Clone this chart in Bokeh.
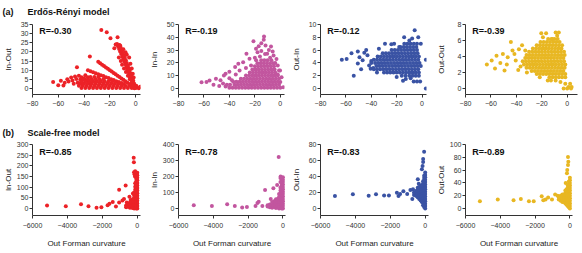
from bokeh.plotting import figure
from bokeh.models import Range1d, FixedTicker, Label
from bokeh.layouts import column, row
from bokeh.embed import file_html
from bokeh.resources import INLINE

FONT = "Liberation Sans"

# ---------------- data ----------------
row_titles = [("(a)", "Erdős-Rényi model"), ("(b)", "Scale-free model")]
y_labels_a = ["In-Out", "In-In", "Out-In", "Out-Out"]
y_labels_b = ["In-Out", "In-In", "Out-In", "Out-Out"]
r_values_a = ["R=-0.30", "R=-0.19", "R=-0.12", "R=-0.39"]
r_values_b = ["R=-0.85", "R=-0.78", "R=-0.83", "R=-0.89"]
x_label_b = "Out Forman curvature"
x_ticks_a = [-80, -60, -40, -20, 0]
x_ticks_b = [-6000, -4000, -2000, 0]
y_ticks_a = [[0, 5, 10, 15, 20, 25, 30, 35], [0, 10, 20, 30, 40, 50], [0, 2, 4, 6, 8, 10], [0, 2, 4, 6, 8]]
y_ticks_b = [[0, 50, 100, 150, 200, 250, 300], [0, 100, 200, 300, 400], [0, 20, 40, 60, 80], [0, 20, 40, 60, 80, 100]]
x_end_a = [3.8, 3.3, 3.5, 8.1]
x_end_b = [184, 150, 190, 150]
colors = ["#EC2227", "#C2569F", "#3A53A4", "#E8B722"]

a1_points = [
    (-64, 3.5), (-60, 1.8), (-58, 4.2), (-56, 1.6), (-55, 3.2), (-53, 5.0), (-52, 3.8), (-50, 6.0), (-49, 4.4), (-48, 2.6),
    (-47, 6.6), (-46, 5.2), (-45, 3.2), (-44, 7.0), (-43, 4.8), (-42, 6.2), (-41, 2.4), (-40, 5.6), (-39, 7.3), (-38, 4.2),
    (-37, 6.2), (-36, 3.0),
    (-45.5, 11.6), (-35.5, 17.5), (-26.6, 32.0), (-22.4, 30.8), (-19.5, 27.5), (-14.0, 28.0), (-12.0, 23.5), (-9.5, 21.5),
    (-7.8, 19.8), (-5.0, 17.0), (-6.8, 18.5), (-4.0, 13.5), (-3.0, 11.0), (-2.2, 8.0), (-1.5, 6.0), (-16.5, 22.0),
    (-0.5, 1.0), (-1.5, 1.8), (-2.5, 2.4), (-1.2, 2.8), (-2.8, 3.6), (-1.8, 4.2), (-3.5, 4.8), (-2.6, 5.6), (-4.2, 6.2),
    (-3.2, 7.0), (-5.0, 7.6), (-4.0, 8.4), (-5.8, 9.0), (-4.6, 9.8), (-6.5, 10.4), (-5.4, 11.2), (-7.2, 11.8), (-6.0, 12.6),
    (-8.0, 13.2), (-6.8, 14.0), (-8.8, 14.6), (-7.6, 15.4), (-9.6, 16.0), (-8.4, 16.8), (-10.4, 17.4), (-9.2, 18.2),
    (-11.2, 18.8), (-10.0, 19.6), (-12.0, 20.2), (-10.8, 21.0), (-12.8, 21.6), (-11.6, 22.4), (-13.6, 23.0), (-12.6, 23.8),
    (-14.4, 24.4), (-15.5, 24.0), (-13.0, 17.0), (-11.5, 15.0), (-10.5, 13.0), (-9.0, 11.0), (-7.5, 9.0), (-6.0, 7.0),
    (-4.5, 5.0), (-3.0, 3.0),
    (-29, 14.6), (-27.5, 13.8), (-26, 13.0), (-24.5, 12.3), (-23, 11.5), (-21.5, 10.8), (-20, 10.0), (-18.5, 9.3),
    (-17, 8.5), (-15.5, 7.8), (-14, 7.0), (-12.5, 6.3), (-11, 5.5), (-9.5, 4.8), (-8, 4.0), (-6.5, 3.3), (-5, 2.5), (-3.5, 1.8),
    (-37, 10.0), (-35, 9.5), (-33, 8.9), (-31, 8.4), (-29, 7.8), (-27, 7.3), (-25, 6.8), (-23, 6.2), (-21, 5.7), (-19, 5.1),
    (-17, 4.6), (-15, 4.0), (-13, 3.5), (-11, 3.0), (-9, 2.4),
    (-42, 0.3), (-39, 0.3), (-36, 0.3), (-33, 0.3), (-30, 0.3), (-27, 0.3), (-24, 0.3), (-21, 0.3), (-18, 0.3), (-15, 0.3),
    (-12, 0.3), (-9, 0.3), (-6, 0.3), (-3, 0.3), (0, 0.3),
    (-44, 1.5), (-41, 1.5), (-38, 1.5), (-35, 1.5), (-32, 1.5), (-29, 1.5), (-26, 1.5), (-23, 1.5), (-20, 1.5), (-17, 1.5),
    (-14, 1.5), (-11, 1.5), (-8, 1.5), (-5, 1.5), (-2, 1.5),
    (-43, 2.7), (-40, 2.7), (-37, 2.7), (-34, 2.7), (-31, 2.7), (-28, 2.7), (-25, 2.7), (-22, 2.7), (-19, 2.7), (-16, 2.7), (-13, 2.7),
    (-42, 3.9), (-39, 3.9), (-36, 3.9), (-33, 3.9), (-30, 3.9), (-27, 3.9), (-24, 3.9), (-21, 3.9), (-18, 3.9),
    (-40, 5.1), (-37, 5.1), (-34, 5.1), (-31, 5.1), (-28, 5.1), (-25, 5.1),
    (-35, 6.3), (-32, 6.3), (-29, 6.3),
    (1, 0.5), (2.5, 0.2), (3.5, 1.0), (0.5, 1.5), (-1, 0.2),
]

a2_points = [
    (-12.8, 40.6), (-21.1, 37.0), (-14.9, 35.4), (-11.6, 33.6), (-7.3, 32.8), (-19.1, 31.0), (-17.9, 28.4), (-14.9, 29.2),
    (-10.3, 27.1), (-5.3, 25.8), (-26.6, 27.1), (-24.2, 23.2), (-33.0, 19.3), (-29.2, 20.5), (-35.5, 16.7), (-43.0, 11.5),
    (-44.3, 10.2), (-50.6, 7.6), (-55.6, 6.3), (-61.9, 4.9), (-58.0, 5.0), (-52.5, 3.0), (-47.0, 6.5), (-40.0, 8.0),
    (-0.2, 14.0), (1.0, 8.8), (2.3, 1.0), (-35.0, 11.0), (-38.0, 6.5), (-40.0, 13.0), (-32.0, 14.0), (-27.0, 16.0),
    (-23.0, 18.0), (-20.0, 24.0), (-16.0, 25.0), (-12.0, 27.0), (-8.0, 24.0), (-4.0, 20.0), (-2.0, 18.0), (-6.0, 29.0),
    (-9.0, 30.0), (-17.0, 33.0), (-13.0, 38.0), (-19.0, 22.0), (-2.0, 11.0), (0.0, 5.0), (-1.0, 14.0), (-3.0, 23.0),
    (-45.0, 4.0), (-48.0, 2.0), (-43.0, 1.5),
    (-40, 0.5), (-37.5, 0.5), (-35, 0.5), (-32.5, 0.5), (-30, 0.5), (-27.5, 0.5), (-25, 0.5), (-22.5, 0.5), (-20, 0.5),
    (-17.5, 0.5), (-15, 0.5), (-12.5, 0.5), (-10, 0.5), (-7.5, 0.5), (-5, 0.5), (-2.5, 0.5), (0, 0.5),
    (-42, 2.9), (-39.5, 2.9), (-36, 2.9), (-33.5, 2.9), (-31, 2.9), (-28.5, 2.9), (-26, 2.9), (-23.5, 2.9), (-21, 2.9),
    (-18.5, 2.9), (-16, 2.9), (-13.5, 2.9), (-11, 2.9), (-8.5, 2.9), (-6, 2.9), (-3.5, 2.9), (-1, 2.9),
    (-37, 5.3), (-34.5, 5.3), (-32, 5.3), (-29.5, 5.3), (-27, 5.3), (-24.5, 5.3), (-22, 5.3), (-19.5, 5.3), (-17, 5.3),
    (-14.5, 5.3), (-12, 5.3), (-9.5, 5.3), (-7, 5.3), (-4.5, 5.3), (-2, 5.3),
    (-31, 7.7), (-28.5, 7.7), (-26, 7.7), (-23.5, 7.7), (-21, 7.7), (-18.5, 7.7), (-16, 7.7), (-13.5, 7.7), (-11, 7.7),
    (-8.5, 7.7), (-6, 7.7), (-3.5, 7.7), (-1, 7.7),
    (-27, 10.1), (-24.5, 10.1), (-22, 10.1), (-19.5, 10.1), (-17, 10.1), (-14.5, 10.1), (-12, 10.1), (-9.5, 10.1), (-7, 10.1),
    (-4.5, 10.1), (-2, 10.1),
    (-24, 12.5), (-21.5, 12.5), (-19, 12.5), (-16.5, 12.5), (-14, 12.5), (-11.5, 12.5), (-9, 12.5), (-6.5, 12.5), (-4, 12.5),
    (-22, 14.9), (-19.5, 14.9), (-17, 14.9), (-14.5, 14.9), (-12, 14.9), (-9.5, 14.9), (-7, 14.9), (-4.5, 14.9),
    (-20, 17.3), (-17.5, 17.3), (-15, 17.3), (-12.5, 17.3), (-10, 17.3), (-7.5, 17.3), (-5, 17.3),
    (-18, 19.7), (-15.5, 19.7), (-13, 19.7), (-10.5, 19.7), (-8, 19.7), (-5.5, 19.7),
    (-15, 22.1), (-12.5, 22.1), (-10, 22.1), (-7, 22.1),
]

a3_points = [
    (-63.2, 4.5), (-59.4, 4.6), (-55.6, 5.5), (-53.8, 2.0), (-50.6, 5.8), (-49.3, 4.9), (-50.6, 3.9), (-45.5, 5.6),
    (-46.8, 4.4), (-43.0, 5.2), (-41.7, 3.6), (-40.0, 4.3), (-40.5, 3.1), (-38.5, 3.2), (-35.5, 2.5), (-29.2, 7.0),
    (-24.2, 6.9), (-22.0, 7.0), (-14.1, 8.0), (-5.8, 9.1), (-7.8, 7.8), (-12.8, 1.5), (-15.0, 1.2), (-6.6, 1.1),
    (-4.0, 1.1), (-1.5, 1.1), (3.0, 4.5), (3.0, 0.0), (-1.0, 7.0), (-3.0, 8.0), (-10.0, 7.5), (-18.0, 6.5),
    (-44.0, 6.0), (-48.0, 3.0), (-34.0, 6.2), (-20.0, 1.8), (-9.0, 1.6),
    (-16, 2.0), (-13, 2.0), (-10, 2.0), (-7.5, 2.0), (-5, 2.0), (-2.5, 2.0),
    (-30, 2.5), (-27.5, 2.5), (-25, 2.5), (-22.5, 2.5), (-20, 2.5), (-17.5, 2.5), (-15, 2.5), (-12.5, 2.5), (-10, 2.5),
    (-7.5, 2.5), (-5, 2.5), (-2.5, 2.5),
    (-38, 3.0), (-35.5, 3.0), (-33, 3.0), (-30.5, 3.0), (-28, 3.0), (-25.5, 3.0), (-23, 3.0), (-20.5, 3.0), (-18, 3.0),
    (-15.5, 3.0), (-13, 3.0), (-10.5, 3.0), (-8, 3.0), (-5.5, 3.0), (-3, 3.0),
    (-36, 3.5), (-33.5, 3.5), (-31, 3.5), (-28.5, 3.5), (-26, 3.5), (-23.5, 3.5), (-21, 3.5), (-18.5, 3.5), (-16, 3.5),
    (-13.5, 3.5), (-11, 3.5), (-8.5, 3.5), (-6, 3.5), (-3.5, 3.5), (-1, 3.5),
    (-40, 4.0), (-37, 4.0), (-34.5, 4.0), (-32, 4.0), (-29.5, 4.0), (-27, 4.0), (-24.5, 4.0), (-22, 4.0), (-19.5, 4.0),
    (-17, 4.0), (-14.5, 4.0), (-12, 4.0), (-9.5, 4.0), (-7, 4.0), (-4.5, 4.0), (-2, 4.0),
    (-38, 4.5), (-35.5, 4.5), (-33, 4.5), (-30.5, 4.5), (-28, 4.5), (-25.5, 4.5), (-23, 4.5), (-20.5, 4.5), (-18, 4.5),
    (-15.5, 4.5), (-13, 4.5), (-10.5, 4.5), (-8, 4.5), (-5.5, 4.5), (-3, 4.5),
    (-35, 5.0), (-32.5, 5.0), (-30, 5.0), (-27.5, 5.0), (-25, 5.0), (-22.5, 5.0), (-20, 5.0), (-17.5, 5.0), (-15, 5.0),
    (-12.5, 5.0), (-10, 5.0), (-7.5, 5.0), (-5, 5.0), (-2.5, 5.0),
    (-31, 5.5), (-28.5, 5.5), (-26, 5.5), (-23.5, 5.5), (-21, 5.5), (-18.5, 5.5), (-16, 5.5), (-13.5, 5.5), (-11, 5.5),
    (-8.5, 5.5), (-6, 5.5), (-3.5, 5.5),
    (-24, 6.0), (-21.5, 6.0), (-19, 6.0), (-16.5, 6.0), (-14, 6.0), (-11.5, 6.0), (-9, 6.0), (-6.5, 6.0), (-4, 6.0),
    (-17, 6.5), (-14.5, 6.5), (-12, 6.5), (-9.5, 6.5), (-7, 6.5), (-4.5, 6.5),
    (-14, 7.0), (-11.5, 7.0), (-9, 7.0), (-6.5, 7.0), (-4, 7.0),
]

a4_points = [
    (-63.2, 3.0), (-59.4, 3.5), (-56.8, 2.5), (-55.6, 4.1), (-52.6, 3.2), (-50.6, 4.3), (-49.3, 2.25), (-46.8, 3.9),
    (-44.3, 5.8), (-43.0, 4.75), (-40.5, 3.5), (-38.0, 4.9), (-36.7, 2.75), (-35.5, 5.4), (-33.0, 4.75), (-31.7, 2.0),
    (-20.4, 6.9), (-16.6, 6.9), (-19.1, 6.4), (-9.1, 7.0), (-6.6, 7.0), (-7.9, 6.6), (-11.6, 6.2), (-21.6, 1.4),
    (-15.3, 1.0), (-12.8, 1.0), (-9.1, 1.0), (-5.3, 0.8), (-1.5, 0.6), (1.0, 0.2), (3.5, 0.2), (-2.8, 0.0), (0.0, 0.0),
    (3.0, 0.0), (2.3, 0.6), (-41.5, 4.3), (-47.5, 3.0), (-38.5, 2.3),
    (-14, 1.4), (-11.5, 1.4), (-9, 1.4), (-6.5, 1.4), (-4, 1.4), (-1.5, 1.4),
    (-24, 1.8), (-21.5, 1.8), (-19, 1.8), (-16.5, 1.8), (-14, 1.8), (-11.5, 1.8), (-9, 1.8), (-6.5, 1.8), (-4, 1.8), (-1.5, 1.8),
    (-28, 2.2), (-25.5, 2.2), (-23, 2.2), (-20.5, 2.2), (-18, 2.2), (-15.5, 2.2), (-13, 2.2), (-10.5, 2.2), (-8, 2.2),
    (-5.5, 2.2), (-3, 2.2),
    (-32, 2.6), (-29.5, 2.6), (-27, 2.6), (-24.5, 2.6), (-22, 2.6), (-19.5, 2.6), (-17, 2.6), (-14.5, 2.6), (-12, 2.6),
    (-9.5, 2.6), (-7, 2.6), (-4.5, 2.6), (-2, 2.6),
    (-34, 3.0), (-31.5, 3.0), (-29, 3.0), (-26.5, 3.0), (-24, 3.0), (-21.5, 3.0), (-19, 3.0), (-16.5, 3.0), (-14, 3.0),
    (-11.5, 3.0), (-9, 3.0), (-6.5, 3.0), (-4, 3.0), (-1.5, 3.0),
    (-35, 3.4), (-32.5, 3.4), (-30, 3.4), (-27.5, 3.4), (-25, 3.4), (-22.5, 3.4), (-20, 3.4), (-17.5, 3.4), (-15, 3.4),
    (-12.5, 3.4), (-10, 3.4), (-7.5, 3.4), (-5, 3.4), (-2.5, 3.4),
    (-33, 3.8), (-30.5, 3.8), (-28, 3.8), (-25.5, 3.8), (-23, 3.8), (-20.5, 3.8), (-18, 3.8), (-15.5, 3.8), (-13, 3.8),
    (-10.5, 3.8), (-8, 3.8), (-5.5, 3.8), (-3, 3.8),
    (-32, 4.2), (-29.5, 4.2), (-27, 4.2), (-24.5, 4.2), (-22, 4.2), (-19.5, 4.2), (-17, 4.2), (-14.5, 4.2), (-12, 4.2),
    (-9.5, 4.2), (-7, 4.2), (-4.5, 4.2), (-2, 4.2),
    (-30, 4.6), (-27.5, 4.6), (-25, 4.6), (-22.5, 4.6), (-20, 4.6), (-17.5, 4.6), (-15, 4.6), (-12.5, 4.6), (-10, 4.6),
    (-7.5, 4.6), (-5, 4.6), (-2.5, 4.6),
    (-27, 5.0), (-24.5, 5.0), (-22, 5.0), (-19.5, 5.0), (-17, 5.0), (-14.5, 5.0), (-12, 5.0), (-9.5, 5.0), (-7, 5.0), (-4.5, 5.0),
    (-24, 5.4), (-21.5, 5.4), (-19, 5.4), (-16.5, 5.4), (-14, 5.4), (-11.5, 5.4), (-9, 5.4), (-6.5, 5.4), (-4, 5.4),
    (-21, 5.8), (-18.5, 5.8), (-16, 5.8), (-13.5, 5.8), (-11, 5.8), (-8.5, 5.8), (-6, 5.8),
    (-15, 6.2), (-12.5, 6.2), (-10, 6.2), (-7.5, 6.2),
]

b1_points = [
    (-5167, 14), (-4094, 11), (-3222, 20), (-2794, 11), (-2333, 3), (-2056, 6), (-1700, 15), (-1594, 22), (-1406, 30),
    (-1222, 9), (-1040, 28), (-1040, 88), (-850, 38), (-667, 108), (-760, 45), (-600, 28), (-550, 12), (-450, 55),
    (-380, 40), (-205, 238), (-195, 217), (-185, 170), (-160, 160), (-130, 150),
    (0, 0), (0, 12), (0, 24), (0, 36), (0, 48), (0, 60), (0, 72), (0, 84), (0, 96), (0, 108), (0, 120), (0, 132), (0, 144),
    (0, 156), (0, 168),
    (-60, 0), (-60, 14), (-60, 28), (-60, 42), (-60, 56), (-60, 70), (-60, 84), (-60, 98), (-60, 112), (-60, 126), (-60, 140),
    (-120, 4), (-120, 18), (-120, 32), (-120, 46), (-120, 60), (-120, 74), (-120, 88), (-120, 102), (-120, 118), (-120, 175),
    (-180, 0), (-180, 15), (-180, 30), (-180, 45), (-180, 60), (-180, 75),
    (-250, 2), (-250, 16), (-250, 30), (-250, 44), (-250, 70),
    (-330, 5), (-330, 18), (-330, 32), (-420, 3), (-420, 15), (-420, 28), (-520, 8), (-520, 20), (-640, 6), (-640, 14),
]

b2_points = [
    (-5122, 21), (-4080, 16), (-3203, 27), (-2764, 15), (-2341, 6), (-2067, 10), (-1573, 15), (-1464, 35), (-1392, 42),
    (-1025, 116), (-547, 126), (-240, 322), (-130, 200), (-330, 147), (-696, 59), (-880, 20), (-1180, 15),
    (0, 0), (0, 15), (0, 30), (0, 45), (0, 60), (0, 75), (0, 90), (0, 105), (0, 120), (0, 135), (0, 150), (0, 165), (0, 180), (0, 195),
    (-70, 0), (-70, 16), (-70, 32), (-70, 48), (-70, 64), (-70, 80), (-70, 96), (-70, 112), (-70, 128), (-70, 144), (-70, 160), (-70, 180),
    (-140, 5), (-140, 22), (-140, 40), (-140, 58), (-140, 76), (-140, 94), (-140, 112), (-140, 130), (-140, 165), (-140, 190),
    (-220, 0), (-220, 18), (-220, 36), (-220, 54), (-220, 72), (-220, 90),
    (-300, 8), (-300, 25), (-300, 42), (-300, 60), (-400, 3), (-400, 20), (-400, 40), (-400, 58),
    (-500, 10), (-500, 28), (-500, 45), (-620, 5), (-620, 22), (-620, 40), (-750, 8), (-750, 25), (-880, 12),
]

b3_points = [
    (-5172, 15.5), (-4145, 17.7), (-3239, 16.0), (-2819, 17.7), (-2355, 16.4), (-2079, 16.4), (-1621, 19.7), (-1529, 15.5),
    (-1437, 18.0), (-1250, 21.5), (-1030, 18.0), (-848, 23.0), (-700, 24.0), (-738, 12.0), (-423, 36.7), (-368, 31.0),
    (-61, 70.8), (-117, 62.0), (-117, 58.0), (-150, 53.0), (-190, 49.0),
    (0, 0), (0, 3), (0, 6), (0, 9), (0, 12), (0, 15), (0, 18), (0, 21), (0, 24), (0, 27), (0, 30), (0, 33), (0, 36), (0, 39), (0, 42), (0, 45),
    (-60, 2), (-60, 5), (-60, 8), (-60, 11), (-60, 14), (-60, 17), (-60, 20), (-60, 23), (-60, 26), (-60, 29), (-60, 32), (-60, 35), (-60, 38), (-60, 41),
    (-120, 4), (-120, 7), (-120, 10), (-120, 13), (-120, 16), (-120, 19), (-120, 22), (-120, 25), (-120, 28), (-120, 31), (-120, 34),
    (-190, 8), (-190, 11), (-190, 14), (-190, 17), (-190, 20), (-190, 23), (-190, 26), (-190, 29),
    (-260, 10), (-260, 13), (-260, 16), (-260, 19), (-260, 22), (-260, 25), (-260, 28),
    (-340, 12), (-340, 15), (-340, 18), (-340, 21), (-340, 24), (-340, 27),
    (-430, 14), (-430, 17), (-430, 20), (-430, 23), (-430, 26), (-530, 16), (-530, 19), (-530, 22), (-640, 17), (-640, 20),
]

b4_points = [
    (-5172, 11.4), (-4145, 14.0), (-3239, 12.7), (-2819, 15.0), (-2355, 11.4), (-2079, 11.4), (-1621, 19.2), (-1529, 12.7),
    (-1400, 14.0), (-1250, 17.0), (-1030, 14.0), (-848, 22.0), (-700, 20.0), (-520, 17.0),
    (-110, 80.6), (-90, 73.0), (-110, 68.0), (-150, 60.0), (-170, 55.0), (-240, 40.0),
    (0, 0), (0, 4), (0, 8), (0, 12), (0, 16), (0, 20), (0, 24), (0, 28), (0, 32), (0, 36), (0, 40), (0, 44), (0, 48),
    (-60, 2), (-60, 6), (-60, 10), (-60, 14), (-60, 18), (-60, 22), (-60, 26), (-60, 30), (-60, 34), (-60, 38), (-60, 42),
    (-120, 4), (-120, 8), (-120, 12), (-120, 16), (-120, 20), (-120, 24), (-120, 28), (-120, 32), (-120, 36),
    (-190, 6), (-190, 10), (-190, 14), (-190, 18), (-190, 22), (-190, 26), (-190, 30),
    (-260, 8), (-260, 12), (-260, 16), (-260, 20), (-260, 24), (-260, 28),
    (-340, 10), (-340, 14), (-340, 18), (-340, 22), (-430, 10), (-430, 14), (-430, 18), (-430, 22),
    (-530, 12), (-530, 16), (-530, 20), (-640, 14), (-640, 18),
]

# ---------------- layout (pixel geometry) ----------------
# (border_left, frame_width, border_right) per panel
GEOM_A = [(29, 111, 6), (27, 111, 4), (27, 111, 7), (28, 116, 3)]
GEOM_B = [(29, 111, 6), (27, 112, 3), (28, 112, 5), (28, 111, 8)]
TOTAL_W = sum(sum(g) for g in GEOM_A)


def style_axis(ax):
    ax.axis_line_color = "#333333"
    ax.axis_line_width = 1
    ax.major_tick_line_color = "#333333"
    ax.major_tick_out = 3
    ax.major_tick_in = 0
    ax.minor_tick_out = 0
    ax.minor_tick_in = 0
    ax.major_label_text_font = FONT
    ax.major_label_text_font_size = "7px"
    ax.major_label_text_color = "#333333"
    ax.major_label_standoff = 1
    ax.axis_label_text_font = FONT
    ax.axis_label_text_font_size = "8px"
    ax.axis_label_text_font_style = "normal"
    ax.axis_label_text_color = "#222222"


def panel(points, color, xr, xticks, yticks, ylabel, rtext, geom, height, top, bottom, ybot_frac,
          r_dy, xstand, xlabel=None):
    bl, fw, br = geom
    ymax = yticks[-1]
    ymin = -ybot_frac * ymax
    p = figure(width=bl + fw + br, height=height, x_range=Range1d(xr[0], xr[1]), y_range=Range1d(ymin, ymax),
               output_backend="svg", toolbar_location=None,
               min_border_left=bl, min_border_right=br, min_border_top=top, min_border_bottom=bottom)
    p.outline_line_color = None
    p.grid.visible = False
    p.xaxis.ticker = FixedTicker(ticks=xticks)
    p.yaxis.ticker = FixedTicker(ticks=yticks)
    style_axis(p.xaxis[0])
    style_axis(p.yaxis[0])
    p.xaxis.major_label_standoff = xstand
    p.yaxis.axis_label = ylabel
    ndig = len(str(ymax))
    p.yaxis.axis_label_standoff = {1: 9, 2: 5, 3: 1}[ndig]
    if xlabel:
        p.xaxis.axis_label = xlabel
        p.xaxis.axis_label_standoff = 8
    xs = [pt[0] for pt in points]
    ys = [pt[1] for pt in points]
    p.scatter(xs, ys, size=4.0, fill_color=color, line_color=None)
    fh = height - top - bottom
    p.add_layout(Label(x=xr[0] + 7.0 / fw * (xr[1] - xr[0]), y=ymax - r_dy / fh * (ymax - ymin), text=rtext,
                       text_font=FONT, text_font_size="9px", text_font_style="bold",
                       text_color="#111111", text_baseline="middle"))
    return p


def title_fig(h, ytext, letter, name):
    t = figure(width=TOTAL_W, height=h, x_range=Range1d(0, TOTAL_W), y_range=Range1d(0, h),
               output_backend="svg", toolbar_location=None, x_axis_type=None, y_axis_type=None,
               min_border=0)
    t.outline_line_color = None
    t.grid.visible = False
    t.add_layout(Label(x=2, y=ytext, text=letter, text_font=FONT, text_font_size="9px",
                       text_font_style="bold", text_color="#111111", text_baseline="middle"))
    t.add_layout(Label(x=27, y=ytext, text=name, text_font=FONT, text_font_size="9px",
                       text_font_style="bold", text_color="#111111", text_baseline="middle"))
    return t


top_sets = [a1_points, a2_points, a3_points, a4_points]
bot_sets = [b1_points, b2_points, b3_points, b4_points]

row_a = [panel(top_sets[i], colors[i], (-80, x_end_a[i]), x_ticks_a, y_ticks_a[i], y_labels_a[i], r_values_a[i],
               GEOM_A[i], 100, 6, 24, 6 / 64, 6, 3) for i in range(4)]
row_b = [panel(bot_sets[i], colors[i], (-6000, x_end_b[i]), x_ticks_b, y_ticks_b[i], y_labels_b[i], r_values_b[i],
               GEOM_B[i], 114, 6, 37, 7 / 64, 7.5, 4, xlabel=x_label_b) for i in range(4)]

ta = title_fig(18, 6.5, row_titles[0][0], row_titles[0][1])
tb = title_fig(20, 6, row_titles[1][0], row_titles[1][1])

layout = column(ta, row(*row_a), tb, row(*row_b))

with open("out.html", "w") as f:
    f.write(file_html(layout, INLINE))
